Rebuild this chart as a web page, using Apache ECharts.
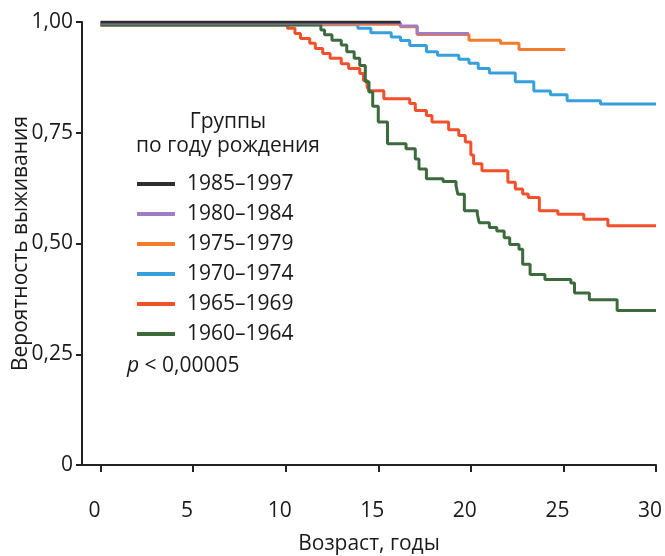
<!DOCTYPE html>
<html>
<head>
<meta charset="utf-8">
<script src="https://cdn.jsdelivr.net/npm/echarts@6/dist/echarts.min.js"></script>
<style>
  html, body { margin: 0; padding: 0; background: #fff; }
  #chart { width: 665px; height: 556px; }
</style>
</head>
<body>
<div id="chart"></div>
<script>
// группы по году рождения
var groupNames = ['1985–1997', '1980–1984', '1975–1979', '1970–1974', '1965–1969', '1960–1964'];
var groupColors = ['#2e2e2e', '#a07cc5', '#f47a2e', '#36a0dc', '#f2502a', '#3c6a3c'];

// возраст (годы) и вероятность выживания, ступенчатые кривые
var age1985 = [0, 16.2];
var surv1985 = [1, 1];

var age1980 = [0, 16.2, 17.1, 19.9];
var surv1980 = [0.998, 0.991, 0.974, 0.974];

var age1975 = [0, 16.2, 17.1, 19.9, 21.6, 22.6, 25.1];
var surv1975 = [0.995, 0.989, 0.972, 0.959, 0.952, 0.938, 0.938];

var age1970 = [0, 13.9, 14.6, 15.7, 16.2, 16.7, 17.6, 18.2, 19.35, 19.9, 20.4, 21.0, 22.4, 23.4, 24.3, 25.2, 27.0, 30];
var surv1970 = [0.994, 0.986, 0.976, 0.966, 0.958, 0.947, 0.933, 0.925, 0.916, 0.907, 0.895, 0.885, 0.865, 0.844, 0.836, 0.822, 0.815, 0.815];

var age1965 = [0, 10.1, 10.5, 10.8, 11.3, 11.6, 12.0, 12.4, 13.0, 13.4, 14.0, 14.2, 14.4, 14.5, 15.3, 16.7, 17.0, 17.6, 17.9, 18.8, 19.35, 19.7, 20.0, 20.15, 20.6, 22.0, 22.4, 22.8, 23.1, 23.7, 24.7, 26.1, 27.4, 30];
var surv1965 = [0.993, 0.986, 0.974, 0.963, 0.952, 0.940, 0.929, 0.918, 0.906, 0.895, 0.884, 0.868, 0.853, 0.845, 0.827, 0.816, 0.800, 0.789, 0.774, 0.757, 0.744, 0.729, 0.700, 0.680, 0.664, 0.638, 0.623, 0.612, 0.604, 0.574, 0.566, 0.555, 0.540, 0.540];

var age1960 = [0, 11.9, 12.1, 12.5, 13.0, 13.3, 13.7, 14.0, 14.3, 14.5, 14.7, 15.0, 15.5, 16.5, 17.0, 17.2, 17.6, 18.5, 19.2, 19.3, 19.65, 20.35, 20.45, 21.0, 21.4, 21.8, 22.1, 22.6, 22.8, 23.2, 24.0, 25.4, 25.6, 26.4, 27.9, 30];
var surv1960 = [0.993, 0.982, 0.971, 0.959, 0.948, 0.933, 0.918, 0.902, 0.865, 0.842, 0.810, 0.774, 0.725, 0.714, 0.691, 0.668, 0.646, 0.640, 0.630, 0.611, 0.574, 0.566, 0.547, 0.536, 0.528, 0.513, 0.498, 0.487, 0.453, 0.430, 0.419, 0.411, 0.388, 0.373, 0.349, 0.349];

var xTicks = [0, 5, 10, 15, 20, 25, 30];

var FONT = '"Open Sans", "Noto Sans", sans-serif';
var TEXT = '#1a1a1a';

function pairs(xs, ys) {
  var out = [];
  for (var i = 0; i < xs.length; i++) out.push([xs[i], ys[i]]);
  return out;
}

function km(idx, xs, ys) {
  return {
    name: groupNames[idx],
    type: 'line',
    step: 'end',
    showSymbol: false,
    symbol: 'none',
    silent: true,
    color: groupColors[idx],
    lineStyle: { width: 3, color: groupColors[idx] },
    data: pairs(xs, ys)
  };
}

var chart = echarts.init(document.getElementById('chart'));

var option = {
  animation: false,
  grid: {
    left: 82, right: 9, top: 22, bottom: 91,
    containLabel: false,
    outerBoundsMode: 'none'
  },
  legend: {
    data: groupNames,
    orient: 'vertical',
    left: 132,
    top: 168,
    itemWidth: 38,
    itemHeight: 4,
    itemGap: 8,
    icon: 'rect',
    selectedMode: false,
    textStyle: {
      fontFamily: FONT, fontSize: 21, color: TEXT,
      lineHeight: 22, padding: [0, 0, 0, 7]
    }
  },
  xAxis: {
    type: 'value',
    min: -1, max: 30,
    name: 'Возраст, годы',
    nameLocation: 'middle',
    nameGap: 69,
    nameMoveOverlap: false,
    nameTextStyle: { fontFamily: FONT, fontSize: 21, color: TEXT },
    splitLine: { show: false },
    axisLine: { lineStyle: { color: '#222', width: 2 } },
    axisTick: { length: 7, lineStyle: { color: '#222', width: 2 }, customValues: xTicks },
    axisLabel: {
      customValues: xTicks,
      margin: 36,
      padding: [0, 12, 0, 0],
      fontFamily: FONT, fontSize: 21, color: TEXT
    }
  },
  yAxis: {
    type: 'value',
    min: 0, max: 1, interval: 0.25,
    name: 'Вероятность выживания',
    nameLocation: 'middle',
    nameGap: 50,
    nameRotate: 90,
    nameMoveOverlap: false,
    nameTextStyle: { fontFamily: FONT, fontSize: 21, color: TEXT },
    splitLine: { show: false },
    axisLine: { show: true, onZero: false, lineStyle: { color: '#222', width: 2 } },
    axisTick: { show: true, length: 6, lineStyle: { color: '#222', width: 2 } },
    axisLabel: {
      margin: 9,
      fontFamily: FONT, fontSize: 21, color: TEXT,
      formatter: function (v) {
        return v === 0 ? '0' : v.toFixed(2).replace('.', ',');
      }
    }
  },
  graphic: [
    {
      type: 'text', x: 228, y: 122,
      style: { text: 'Группы', font: '21px ' + FONT, fill: TEXT, align: 'center', verticalAlign: 'middle', textAlign: 'center', textVerticalAlign: 'middle' }
    },
    {
      type: 'text', x: 228, y: 146,
      style: { text: 'по году рождения', font: '21px ' + FONT, fill: TEXT, align: 'center', verticalAlign: 'middle', textAlign: 'center', textVerticalAlign: 'middle' }
    },
    {
      type: 'text', x: 127, y: 366,
      style: {
        text: '{i|p} < 0,00005',
        font: '21px ' + FONT, fill: TEXT,
        align: 'left', verticalAlign: 'middle', textAlign: 'left', textVerticalAlign: 'middle',
        rich: { i: { fontStyle: 'italic', fontFamily: FONT, fontSize: 21, fill: TEXT, color: TEXT } }
      }
    }
  ],
  // порядок отрисовки: зелёная поверх красной, чёрная сверху
  series: [
    km(4, age1965, surv1965),
    km(3, age1970, surv1970),
    km(2, age1975, surv1975),
    km(5, age1960, surv1960),
    km(1, age1980, surv1980),
    km(0, age1985, surv1985)
  ]
};

chart.setOption(option);
</script>
</body>
</html>
